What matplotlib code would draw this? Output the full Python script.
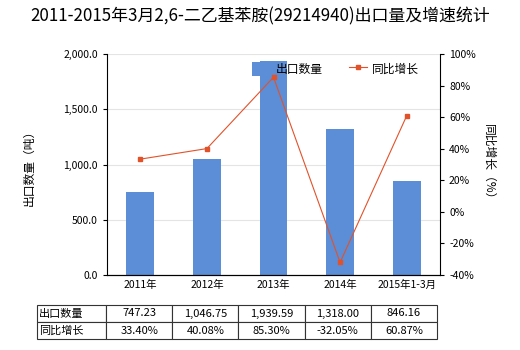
import matplotlib.pyplot as plt
import numpy as np

plt.rcParams['font.family'] = ['Noto Sans CJK SC', 'DejaVu Sans']

# ----------------------------
# Data
# ----------------------------
categories = ["2011年", "2012年", "2013年", "2014年", "2015年1-3月"]
export_qty = [747.23, 1046.75, 1939.59, 1318.00, 846.16]
growth = [33.40, 40.08, 85.30, -32.05, 60.87]
qty_labels = ["747.23", "1,046.75", "1,939.59", "1,318.00", "846.16"]
growth_labels = ["33.40%", "40.08%", "85.30%", "-32.05%", "60.87%"]

BAR_COLOR = "#5b8ed6"
LINE_COLOR = "#e2522a"

fig = plt.figure(figsize=(5.2, 3.5), dpi=100)
ax = fig.add_axes([107 / 520, 1 - 275 / 350, 333 / 520, 221 / 350])
ax2 = ax.twinx()

x = np.arange(len(categories))
ax.bar(x, export_qty, width=0.42, color=BAR_COLOR, label="出口数量", zorder=2)
ax2.plot(x, growth, color=LINE_COLOR, linewidth=0.8, marker="s", markersize=2.5,
         label="同比增长", zorder=3)

ax.set_xlim(-0.5, len(categories) - 0.5)
ax.set_ylim(0, 2000)
ax.set_yticks(np.arange(0, 2001, 500))
ax.set_yticklabels([f"{v:,.1f}" for v in np.arange(0, 2001, 500)])
ax.yaxis.grid(True, color="#e4e4e4", linewidth=0.8, zorder=0)
ax.set_axisbelow(True)
ax.set_xticks(x)
ax.set_xticklabels(categories)

ax2.set_ylim(-40, 100)
ax2.set_yticks(np.arange(-40, 101, 20))
ax2.set_yticklabels([f"{v}%" for v in np.arange(-40, 101, 20)])

for a in (ax, ax2):
    a.tick_params(labelsize=7.5, length=3, width=0.8, colors="black")
    a.spines["top"].set_visible(False)
ax.tick_params(axis="x", length=0)
ax.spines["right"].set_visible(False)
ax2.spines["left"].set_visible(False)

ax.set_ylabel("出口数量（吨）", fontsize=8.5, labelpad=20)
ax2.set_ylabel("同比增长（%）", fontsize=8.5, rotation=-90, labelpad=14)

fig.text(0.5, 1 - 16 / 350, "2011-2015年3月2,6-二乙基苯胺(29214940)出口量及增速统计",
         ha="center", va="center", fontsize=12.2)

# Legend
h1, l1 = ax.get_legend_handles_labels()
h2, l2 = ax2.get_legend_handles_labels()
fig.legend(h1 + h2, l1 + l2, loc="upper left", bbox_to_anchor=(252 / 520, 1 - 62 / 350),
           ncol=2, frameon=False, fontsize=8.5, handlelength=1.6, handleheight=1.4,
           columnspacing=2.2, handletextpad=0.4, borderpad=0, borderaxespad=0)

# ----------------------------
# Data table under the chart
# ----------------------------
tax = fig.add_axes([37 / 520, 1 - 339 / 350, 400 / 520, 34 / 350])
tax.axis("off")
cell_text = [["出口数量"] + qty_labels, ["同比增长"] + growth_labels]
col_w = [69 / 400] + [66.2 / 400] * 5
tbl = tax.table(cellText=cell_text, colWidths=col_w, bbox=[0, 0, 1, 1], cellLoc="center")
tbl.auto_set_font_size(False)
tbl.set_fontsize(8)
for (r, c), cell in tbl.get_celld().items():
    cell.set_linewidth(0.8)
    cell.set_edgecolor("#333333")
    if c == 0:
        cell.set_text_props(ha="left")
        cell.PAD = 0.03

fig.savefig("out.png", dpi=100)
